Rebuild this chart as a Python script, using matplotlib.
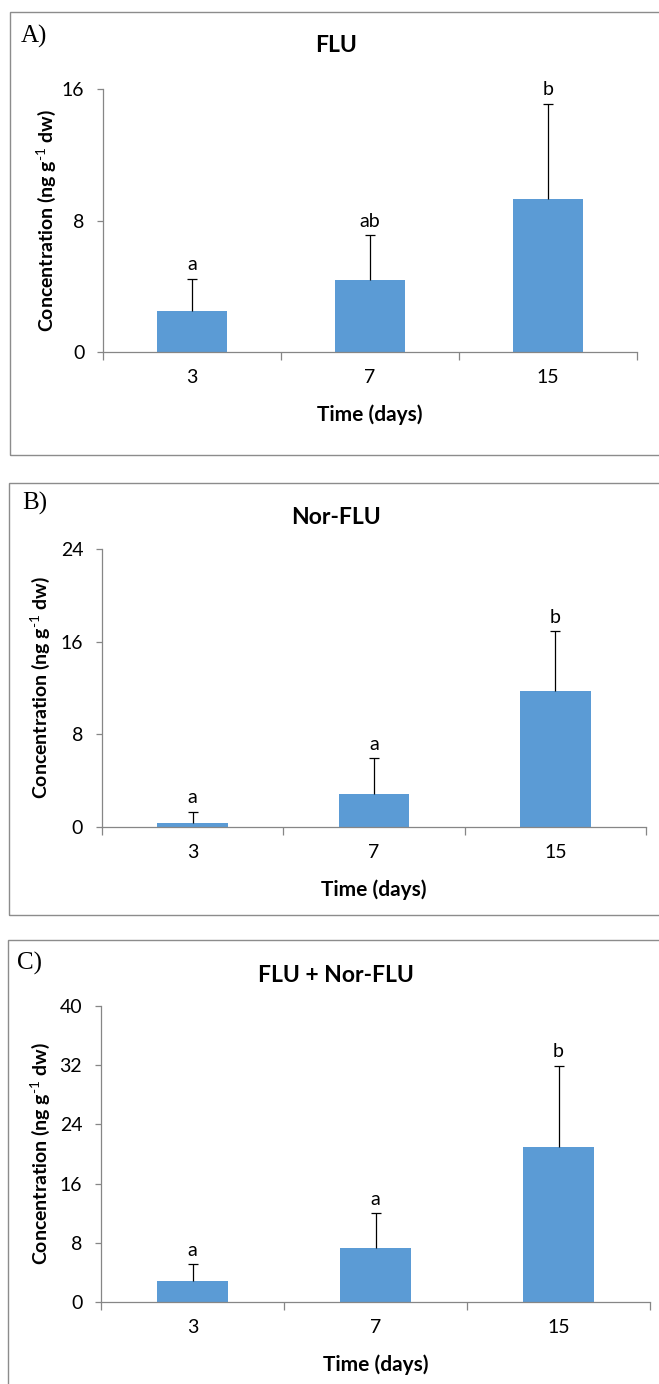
import matplotlib
matplotlib.use("Agg")
import matplotlib.pyplot as plt
from matplotlib.patches import Rectangle

plt.rcParams["font.family"] = ["Lato", "DejaVu Sans"]
plt.rcParams["mathtext.fontset"] = "custom"
plt.rcParams["mathtext.rm"] = "Lato"
plt.rcParams["mathtext.bf"] = "Lato:bold"

days = ["3", "7", "15"]

flu_mean = [2.5, 4.4, 9.3]
flu_err = [1.95, 2.7, 5.8]
flu_letters = ["a", "ab", "b"]

norflu_mean = [0.35, 2.85, 11.7]
norflu_err = [0.95, 3.1, 5.2]
norflu_letters = ["a", "a", "b"]

total_mean = [2.8, 7.3, 20.9]
total_err = [2.3, 4.7, 11.0]
total_letters = ["a", "a", "b"]

bar_color = "#5B9BD5"
axis_color = "#868686"
W, H = 659, 1384

fig = plt.figure(figsize=(W / 100, H / 100), dpi=100)


def px(x0, y0, x1, y1):
    # pixel box (top-left origin) -> figure rect
    return [x0 / W, 1 - y1 / H, (x1 - x0) / W, (y1 - y0) / H]


panels = [
    dict(tag="A)", title="FLU", mean=flu_mean, err=flu_err, letters=flu_letters,
         ymax=16, step=8, box=(103, 89, 637, 352), frame=(10, 12, 720, 455),
         title_y=45, tag_xy=(21, 36), ylab_x=-0.107, xlab_y=-0.24),
    dict(tag="B)", title="Nor-FLU", mean=norflu_mean, err=norflu_err, letters=norflu_letters,
         ymax=24, step=8, box=(102, 549, 646, 827), frame=(9, 483, 720, 915),
         title_y=517, tag_xy=(22, 503), ylab_x=-0.114, xlab_y=-0.227),
    dict(tag="C)", title="FLU + Nor-FLU", mean=total_mean, err=total_err, letters=total_letters,
         ymax=40, step=8, box=(101, 1006, 650, 1302), frame=(8, 940, 720, 1450),
         title_y=975, tag_xy=(17, 963), ylab_x=-0.111, xlab_y=-0.213),
]

for p in panels:
    fx0, fy0, fx1, fy1 = p["frame"]
    fig.patches.append(Rectangle((fx0 / W, 1 - fy1 / H), (fx1 - fx0) / W, (fy1 - fy0) / H,
                                 transform=fig.transFigure, fill=False,
                                 edgecolor="#8c8c8c", linewidth=1.0))

    ax = fig.add_axes(px(*p["box"]))
    x = list(range(len(days)))
    ax.bar(x, p["mean"], width=0.39, color=bar_color, zorder=2)
    # upper error bars only
    ax.vlines(x, p["mean"], [m + e for m, e in zip(p["mean"], p["err"])],
              color="black", linewidth=0.9, zorder=3)
    ax.plot(x, [m + e for m, e in zip(p["mean"], p["err"])], ls="none",
            marker="_", markersize=7, markeredgewidth=0.9, color="black", zorder=3)
    for xi, m, e, lab in zip(x, p["mean"], p["err"], p["letters"]):
        ax.annotate(lab, (xi, m + e), xytext=(0, 4), textcoords="offset points",
                    ha="center", va="bottom", fontsize=14)

    ax.set_xlim(-0.5, 2.5)
    ax.set_ylim(0, p["ymax"])
    ax.set_yticks(range(0, p["ymax"] + 1, p["step"]))
    ax.set_xticks(x)
    ax.set_xticklabels(days)
    ax.set_xticks([-0.5, 0.5, 1.5, 2.5], minor=True)
    ax.tick_params(axis="x", which="major", length=0, pad=12, labelsize=14)
    ax.tick_params(axis="x", which="minor", length=6, width=0.9, color=axis_color)
    ax.tick_params(axis="y", length=4.5, width=0.9, color=axis_color, pad=9, labelsize=14)

    for s in ["top", "right"]:
        ax.spines[s].set_visible(False)
    for s in ["left", "bottom"]:
        ax.spines[s].set_color(axis_color)
        ax.spines[s].set_linewidth(0.9)

    ax.set_ylabel(r"Concentration (ng g$^{\text{-1}}$ dw)", fontsize=14,
                  fontweight="bold", va="center")
    ax.yaxis.set_label_coords(p["ylab_x"], 0.5)
    ax.set_xlabel("Time (days)", fontsize=15, fontweight="bold", va="center")
    ax.xaxis.set_label_coords(0.5, p["xlab_y"])

    fig.text(336 / W, 1 - p["title_y"] / H, p["title"], ha="center", va="center",
             fontsize=16.5, fontweight="bold")
    tx, ty = p["tag_xy"]
    fig.text(tx / W, 1 - ty / H, p["tag"], ha="left", va="center",
             fontsize=18, family="Liberation Serif")

fig.savefig("out.png", dpi=100)
